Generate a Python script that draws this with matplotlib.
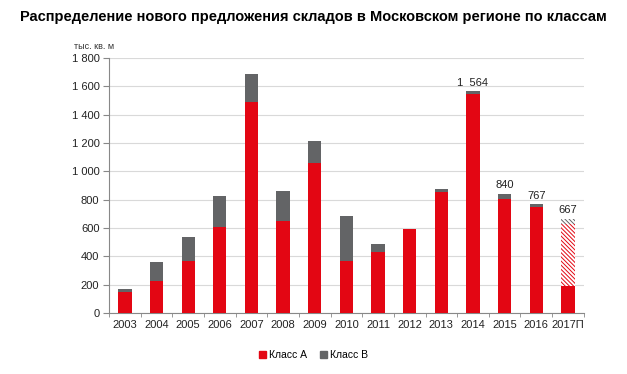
import numpy as np
import matplotlib.pyplot as plt
from matplotlib.patches import Patch

plt.rcParams['font.family'] = ['Liberation Sans', 'DejaVu Sans']
plt.rcParams['hatch.linewidth'] = 0.7

years = ['2003', '2004', '2005', '2006', '2007', '2008', '2009', '2010',
         '2011', '2012', '2013', '2014', '2015', '2016', '2017П']
class_a = [145, 228, 369, 605, 1492, 652, 1061, 369, 433, 595, 854, 1545, 805, 745, 190]
class_b = [25, 132, 170, 223, 198, 209, 153, 316, 52, 0, 19, 19, 35, 22, 0]
# forecast part of 2017 (hatched)
plan_a = [0] * 14 + [440]
plan_b = [0] * 14 + [37]
labels = {11: '1  564', 12: '840', 13: '767', 14: '667'}

red = '#e30613'
gray = '#636466'

fig = plt.figure(figsize=(6.27, 3.74), dpi=100)
ax = fig.add_axes([0.174, 0.163, 0.757, 0.682])

x = np.arange(len(years))
a = np.array(class_a)
b = np.array(class_b)
pa = np.array(plan_a)
pb = np.array(plan_b)
w = 0.42

ax.bar(x, a, w, color=red, zorder=3)
ax.bar(x, b, w, bottom=a, color=gray, zorder=3)
ax.bar(x, pa, w, bottom=a + b, color='white', edgecolor=red, hatch='\\' * 8,
       linewidth=0, zorder=3)
ax.bar(x, pb, w, bottom=a + b + pa, color='white', edgecolor=gray, hatch='\\' * 8,
       linewidth=0, zorder=3)

tot = a + b + pa + pb
for i, s in labels.items():
    ax.text(x[i], tot[i] + 25, s, ha='center', va='bottom', fontsize=8, color='#222222')

ax.set_xlim(-0.5, len(years) - 0.5)
ax.set_ylim(0, 1800)
ax.set_yticks(np.arange(0, 1801, 200))
ax.set_yticklabels(['{:,}'.format(v).replace(',', ' ') for v in range(0, 1801, 200)])
ax.set_xticks(x)
ax.set_xticklabels(years)
ax.set_xticks(np.arange(-0.5, len(years)), minor=True)
ax.tick_params(axis='x', which='major', length=0, labelsize=8, pad=5, colors='#222222')
ax.tick_params(axis='x', which='minor', length=3, color='#888888')
ax.tick_params(axis='y', length=4, color='#888888', labelsize=8, pad=3, labelcolor='#222222')

ax.grid(axis='y', color='#d9d9d9', linewidth=0.8, zorder=0)
for sp in ['top', 'right']:
    ax.spines[sp].set_visible(False)
ax.spines['left'].set_color('#888888')
ax.spines['bottom'].set_color('#888888')

fig.text(0.5, 0.955, 'Распределение нового предложения складов в Московском регионе по классам',
         ha='center', va='center', fontsize=10.5, fontweight='bold')
fig.text(0.118, 0.877, 'тыс. кв. м', ha='left', va='center', fontsize=6.5, color='#333333')

handles = [Patch(color=red, label='Класс А'), Patch(color=gray, label='Класс В')]
fig.legend(handles=handles, loc='center', bbox_to_anchor=(0.5, 0.05), ncol=2, frameon=False,
           fontsize=7.5, handlelength=0.7, handleheight=0.7, handletextpad=0.3, columnspacing=1.2)

fig.savefig('out.png', dpi=100)
